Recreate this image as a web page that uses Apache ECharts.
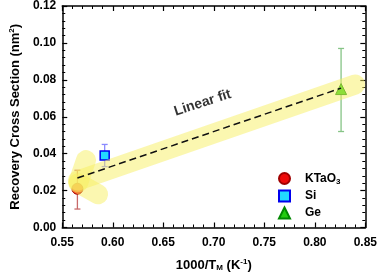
<!DOCTYPE html>
<html><head><meta charset="utf-8">
<script src="https://cdn.jsdelivr.net/npm/echarts@6/dist/echarts.min.js"></script>
<style>html,body{margin:0;padding:0;background:#fff}#c{width:380px;height:277px}</style>
</head><body><div id="c"></div>
<script>
// data
const seriesNames = ['KTaO3', 'Si', 'Ge'];
const ktaoPoint = [[0.565, 0.021]];
const siPoint = [[0.592, 0.039]];
const gePoint = [[0.826, 0.075]];
const ktaoErr = [[0.565, 0.010, 0.031]];
const siErr = [[0.592, 0.033, 0.045]];
const geErr = [[0.826, 0.052, 0.097]];
const fitLine = [[0.565, 0.0268], [0.826, 0.0755]];
const bandMain = [[0.5655, 0.0255], [0.840, 0.0775]];
const bandUp = [[0.5660, 0.0245], [0.5735, 0.0365]];
const bandDown = [[0.5660, 0.0240], [0.5855, 0.0180]];
const fitLabel = [[0.689, 0.0675]];
const xTicks = {min: 0.55, max: 0.85, interval: 0.05};
const yTicks = {min: 0, max: 0.12, interval: 0.02};

const FONT = 'Liberation Sans, Arial, sans-serif';
const chart = echarts.init(document.getElementById('c'));

function errSeries(data, color) {
  return {
    type: 'custom', z: 1, silent: true,
    data: data,
    renderItem: function (params, api) {
      const x = api.value(0);
      const lo = api.coord([x, api.value(1)]);
      const hi = api.coord([x, api.value(2)]);
      const w = 3;
      const st = {stroke: color, lineWidth: 1.3};
      return {type: 'group', children: [
        {type: 'line', shape: {x1: lo[0], y1: lo[1], x2: hi[0], y2: hi[1]}, style: st},
        {type: 'line', shape: {x1: lo[0]-w, y1: lo[1], x2: lo[0]+w, y2: lo[1]}, style: st},
        {type: 'line', shape: {x1: hi[0]-w, y1: hi[1], x2: hi[0]+w, y2: hi[1]}, style: st}
      ]};
    }
  };
}
function band(data) {
  return {type: 'line', data: data, symbol: 'none', z: 3, silent: true,
    lineStyle: {width: 20, color: 'rgba(247,239,97,0.5)', cap: 'round'}};
}
const axisCommon = {
  type: 'value',
  axisLine: {show: true, onZero: false, lineStyle: {color: '#000', width: 1.5}},
  axisTick: {show: true, inside: true, length: 5, lineStyle: {color: '#000', width: 1.2}},
  minorTick: {show: true, splitNumber: 5, length: 3, lineStyle: {color: '#000', width: 1}},
  splitLine: {show: false},
  minorSplitLine: {show: false}
};
const labelStyle = {color: '#000', fontWeight: 'bold', fontSize: 12, fontFamily: FONT,
  formatter: v => v.toFixed(2)};

chart.setOption({
  animation: false,
  grid: {left: 56, right: 13, top: 5, bottom: 48},
  xAxis: [
    Object.assign({}, axisCommon, xTicks, {position: 'bottom',
      axisLabel: Object.assign({margin: 9}, labelStyle),
      name: '1000/T{sub|M} (K{sup|-1})', nameLocation: 'middle', nameGap: 30,
      nameTextStyle: {color: '#000', fontWeight: 'bold', fontSize: 13, fontFamily: FONT,
        rich: {sub: {fontSize: 8, fontWeight: 'bold', fontFamily: FONT, padding: [6, 0, 0, 0]},
               sup: {fontSize: 8, fontWeight: 'bold', fontFamily: FONT, padding: [0, 0, 7, 0]}}}}),
    Object.assign({}, axisCommon, xTicks, {position: 'top', axisLabel: {show: false}})
  ],
  yAxis: [
    Object.assign({}, axisCommon, yTicks, {position: 'left',
      axisLabel: Object.assign({margin: 6}, labelStyle),
      name: 'Recovery Cross Section (nm{sup|2})', nameLocation: 'middle', nameGap: 38,
      nameTextStyle: {color: '#000', fontWeight: 'bold', fontSize: 13, fontFamily: FONT,
        rich: {sup: {fontSize: 8, fontWeight: 'bold', fontFamily: FONT, padding: [0, 0, 7, 0]}}}}),
    Object.assign({}, axisCommon, yTicks, {position: 'right', axisLabel: {show: false}})
  ],
  legend: {
    data: seriesNames, orient: 'vertical', left: 273, top: 167,
    itemWidth: 11, itemHeight: 11, itemGap: 4,
    textStyle: {color: '#000', fontWeight: 'bold', fontSize: 12, fontFamily: FONT,
      rich: {gap: {width: 10},
             sub: {fontSize: 8, fontWeight: 'bold', fontFamily: FONT, padding: [6, 0, 0, 0]}}},
    formatter: n => n === 'KTaO3' ? '{gap|}KTaO{sub|3}' : '{gap|}' + n
  },
  series: [
    errSeries(ktaoErr, '#c86a6a'),
    errSeries(siErr, '#8a8aff'),
    errSeries(geErr, '#86c486'),
    {name: 'KTaO3', type: 'scatter', z: 2, data: ktaoPoint, symbol: 'circle', symbolSize: 11,
      itemStyle: {color: '#ee0a0a', borderColor: '#a00000', borderWidth: 1, opacity: 1}},
    {name: 'Si', type: 'scatter', z: 2, data: siPoint, symbol: 'rect', symbolSize: 9,
      itemStyle: {color: '#22d8ff', borderColor: '#0000ee', borderWidth: 1.5, opacity: 1}},
    {name: 'Ge', type: 'scatter', z: 2, data: gePoint, symbol: 'triangle', symbolSize: 11,
      itemStyle: {color: '#22cc10', borderColor: '#008800', borderWidth: 1, opacity: 1}},
    band(bandMain), band(bandUp), band(bandDown),
    {type: 'line', data: fitLine, symbol: 'none', z: 4, silent: true,
      lineStyle: {color: '#111', width: 1.5, type: [7, 4]}},
    {type: 'scatter', data: fitLabel, symbolSize: 0, z: 5, silent: true,
      label: {show: true, position: 'inside', formatter: 'Linear fit', rotate: 18,
        color: '#000', fontWeight: 'bold', fontSize: 14, fontFamily: FONT}}
  ]
});
</script></body></html>
